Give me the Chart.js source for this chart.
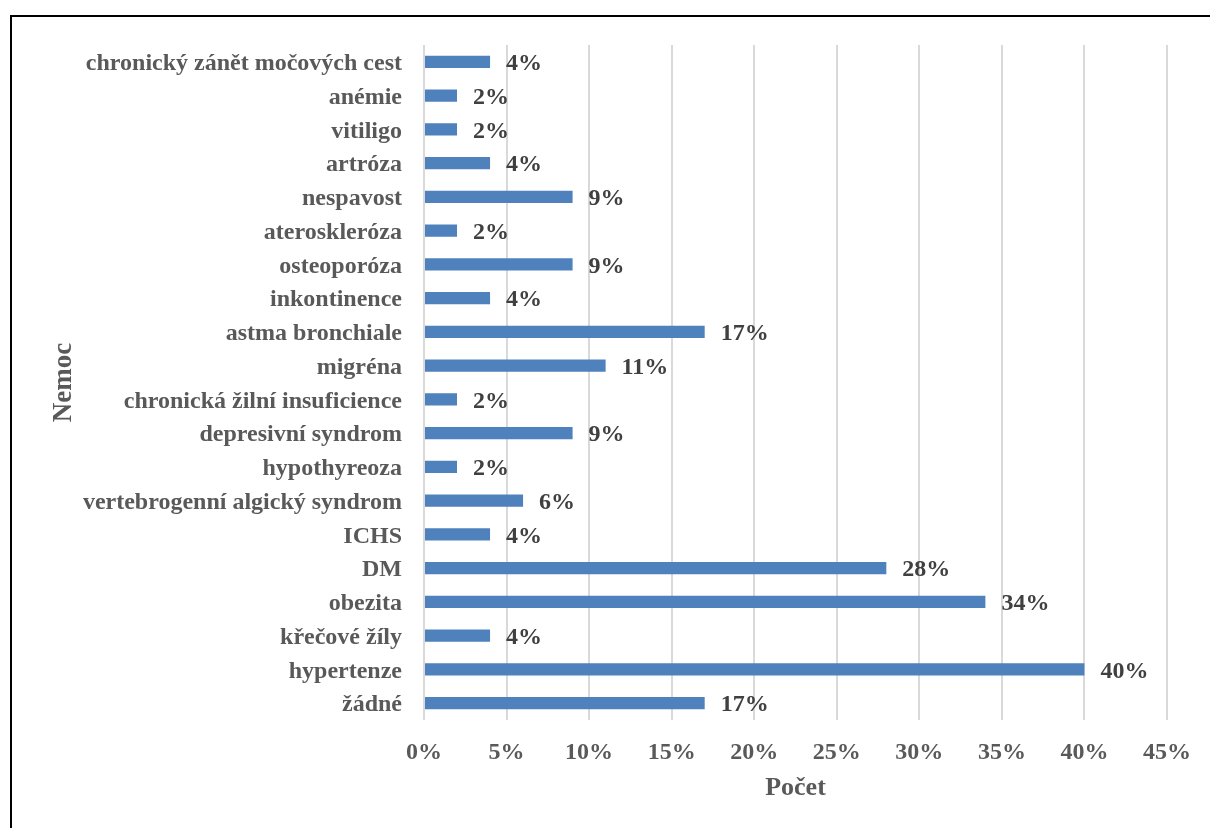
<!DOCTYPE html>
<html>
<head>
<meta charset="utf-8">
<script src="https://cdn.jsdelivr.net/npm/chart.js@4/dist/chart.umd.min.js"></script>
<style>
    html, body { margin: 0; padding: 0; overflow: hidden; background: #fff; }
    #frame {
        position: absolute; left: 10px; top: 15px; width: 1400px; height: 1000px;
        border: 2px solid #000; box-sizing: border-box;
    }
    #wrap { position: absolute; left: 0; top: 0; width: 1210px; height: 828px; }
</style>
</head>
<body>
<div id="frame"></div>
<div id="wrap"><canvas id="myChart" width="1210" height="828"></canvas></div>
<script>
const diseases = [
    'chronický zánět močových cest', 'anémie', 'vitiligo', 'artróza', 'nespavost',
    'ateroskleróza', 'osteoporóza', 'inkontinence', 'astma bronchiale', 'migréna',
    'chronická žilní insuficience', 'depresivní syndrom', 'hypothyreoza',
    'vertebrogenní algický syndrom', 'ICHS', 'DM', 'obezita', 'křečové žíly',
    'hypertenze', 'žádné'
]
const shares = [4, 2, 2, 4, 9, 2, 9, 4, 17, 11, 2, 9, 2, 6, 4, 28, 34, 4, 40, 17]
const xMax = 45
const xStep = 5

const fontFamily = '"Liberation Serif", "Times New Roman", serif'

// writes the percentage to the right of each bar
const valueLabels = {
    id: 'valueLabels',
    afterDatasetsDraw: (chart) => {
        const ctx = chart.ctx
        const meta = chart.getDatasetMeta(0)
        ctx.save()
        ctx.font = `bold 24px ${fontFamily}`
        ctx.fillStyle = '#404040'
        ctx.textAlign = 'left'
        ctx.textBaseline = 'middle'
        meta.data.forEach((bar, i) => {
            ctx.fillText(shares[i] + '%', bar.x + 16, bar.y + 2)
        })
        ctx.restore()
    }
}

const ctx = document.getElementById('myChart').getContext('2d')

const myChart = new Chart(ctx, {
    type: 'bar',
    data: {
        labels: diseases,
        datasets: [{
            data: shares,
            backgroundColor: '#4f81bd',
            borderWidth: 0,
            barPercentage: 0.36,
            categoryPercentage: 1
        }]
    },
    options: {
        indexAxis: 'y',
        responsive: false,
        animation: false,
        layout: { padding: { left: 0, top: 45, right: 43, bottom: 0 } },
        plugins: {
            legend: { display: false },
            tooltip: { enabled: false }
        },
        scales: {
            x: {
                min: 0,
                max: xMax,
                afterFit: (scale) => { scale.height = 108 },
                grid: { color: '#d9d9d9', lineWidth: 2, drawTicks: false },
                border: { display: false },
                ticks: {
                    stepSize: xStep,
                    padding: 18,
                    color: '#595959',
                    font: { family: fontFamily, size: 24, weight: 'bold' },
                    callback: (value) => value + '%'
                },
                title: {
                    display: true,
                    text: 'Počet',
                    color: '#595959',
                    font: { family: fontFamily, size: 26, weight: 'bold' },
                    padding: { top: 0, bottom: 24 }
                }
            },
            y: {
                afterFit: (scale) => { scale.width = 424 },
                grid: { display: false },
                border: { display: false },
                ticks: {
                    padding: 14,
                    labelOffset: 2,
                    color: '#595959',
                    font: { family: fontFamily, size: 24, weight: 'bold' }
                },
                title: {
                    display: true,
                    text: 'Nemoc',
                    color: '#595959',
                    font: { family: fontFamily, size: 27, weight: 'bold' },
                    padding: { top: 48, bottom: 0 }
                }
            }
        }
    },
    plugins: [valueLabels]
})
</script>
</body>
</html>
